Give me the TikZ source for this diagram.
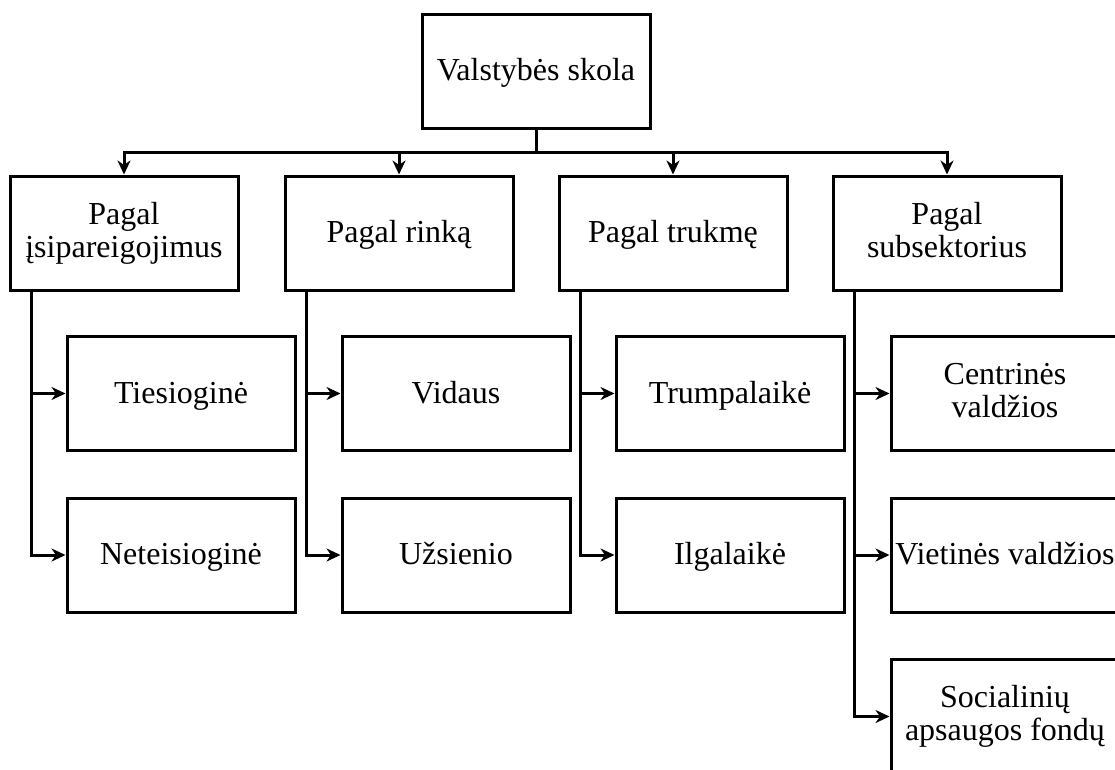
\documentclass[tikz,border=0pt]{standalone}
\usepackage{fontspec}
\setmainfont{Liberation Serif}
\usetikzlibrary{arrows.meta}
% fixed struts so every label sits at the same baseline
\newcommand\boxtopstrut{\rule{0pt}{26pt}}
\newcommand\boxbotstrut{\rule[-7pt]{0pt}{7pt}}
\begin{document}
\begin{tikzpicture}[x=1pt,y=-1pt,
  box/.style={draw,line width=3pt,minimum width=228pt,minimum height=114pt,
    inner sep=1pt,align=center,font=\fontsize{32}{33}\selectfont,
    execute at begin node=\boxtopstrut,execute at end node=\boxbotstrut},
  link/.style={line width=3pt},
  arr/.style={link,-{Stealth[length=14pt,width=13pt,inset=4.5pt]}}]
\clip (0,0) rectangle (1115,769);
\fill[white] (0,0) rectangle (1115,769);

% root
\node[box] (root) at (536,71) {Valstybės skola};
\coordinate (bus) at (0,152);

% classification criteria
\node[box] (p1) at (124,233) {Pagal\\įsipareigojimus};
\node[box] (p2) at (399,233) {Pagal rinką};
\node[box] (p3) at (673,233) {Pagal trukmę};
\node[box] (p4) at (947,233) {Pagal\\subsektorius};

% debt types
\node[box] (a1) at (181,393.5) {Tiesioginė};
\node[box] (a2) at (181,555) {Neteisioginė};
\node[box] (b1) at (456,393.5) {Vidaus};
\node[box] (b2) at (456,555) {Užsienio};
\node[box] (c1) at (730,393.5) {Trumpalaikė};
\node[box] (c2) at (730,555) {Ilgalaikė};
\node[box] (d1) at (1005,393.5) {Centrinės\\valdžios};
\node[box] (d2) at (1005,555) {Vietinės valdžios};
\node[box] (d3) at (1005,716.5) {Socialinių\\apsaugos fondų};

% root to criteria
\foreach \p in {p1,p2,p3,p4}
  \draw[arr] (root.south) |- (\p.north |- bus) -- (\p.north);

% criteria to debt types
\foreach \p/\kids in {p1/{a1,a2},p2/{b1,b2},p3/{c1,c2},p4/{d1,d2,d3}}
  \foreach \k in \kids
    \draw[arr] ([xshift=23pt]\p.south west) |- (\k.west);
\end{tikzpicture}
\end{document}
